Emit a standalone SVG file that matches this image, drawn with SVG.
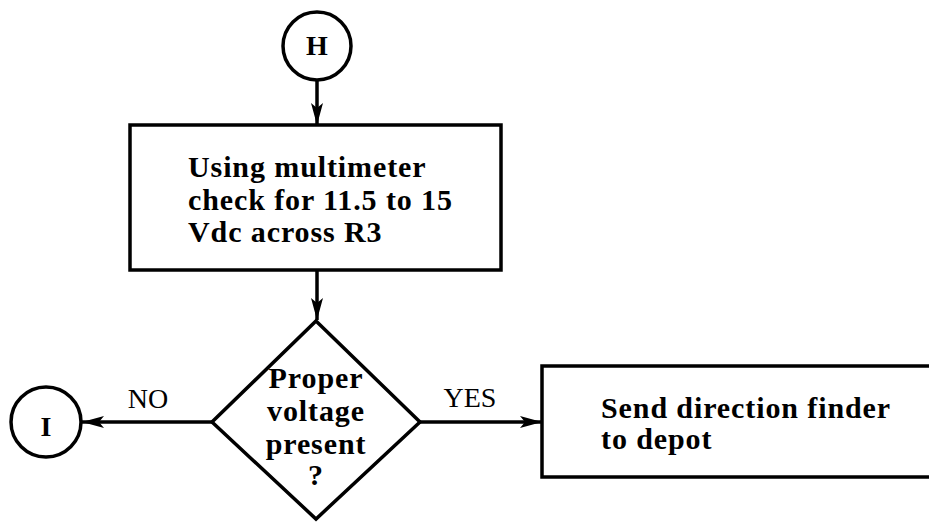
<svg xmlns="http://www.w3.org/2000/svg" width="929" height="522" viewBox="0 0 929 522">
<defs>
<style>
.shape{fill:#fff;stroke:#000;stroke-width:3.5}
.conn{fill:none;stroke:#000;stroke-width:3.5}
.t{font-family:"Liberation Serif",serif;font-weight:bold;font-size:30px;letter-spacing:0.9px;fill:#000}
.c{text-anchor:middle}
.cl{font-family:"Liberation Serif",serif;font-weight:bold;font-size:28px;fill:#000;text-anchor:middle}
.lbl{font-family:"Liberation Serif",serif;font-size:28px;fill:#000;text-anchor:middle}
</style>
<marker id="ah" viewBox="0 0 22 12" refX="22" refY="6" markerWidth="22" markerHeight="12" markerUnits="userSpaceOnUse" orient="auto">
<path d="M0,0 L22,6 L0,12 L5,6 Z" fill="#000"/>
</marker>
</defs>
<rect width="929" height="522" fill="#fff"/>
<g id="connectors">
<line class="conn" x1="317" y1="80" x2="317" y2="125" marker-end="url(#ah)"/>
<line class="conn" x1="317" y1="270" x2="317" y2="320" marker-end="url(#ah)"/>
<line class="conn" x1="212" y1="422" x2="82" y2="422" marker-end="url(#ah)"/>
<text class="lbl" x="148" y="408">NO</text>
<line class="conn" x1="420" y1="422" x2="542" y2="422" marker-end="url(#ah)"/>
<text class="lbl" x="470" y="407">YES</text>
</g>
<g id="nodeH">
<circle class="shape" cx="317" cy="46" r="34"/>
<text class="cl" x="317" y="55">H</text>
</g>
<g id="nodeCheck">
<rect class="shape" x="130" y="125" width="371" height="145"/>
<text class="t" x="188" y="177">Using multimeter</text>
<text class="t" x="188" y="210">check for 11.5 to 15</text>
<text class="t" x="188" y="242">Vdc across R3</text>
</g>
<g id="nodeDecision">
<polygon class="shape" points="316,321 420,422 316,519 212,422"/>
<text class="t c" x="316" y="388">Proper</text>
<text class="t c" x="316" y="421">voltage</text>
<text class="t c" x="316" y="454">present</text>
<text class="t c" x="316" y="485">?</text>
</g>
<g id="nodeI">
<circle class="shape" cx="46" cy="422" r="35"/>
<text class="cl" x="46" y="436">I</text>
</g>
<g id="nodeSend">
<rect class="shape" x="542" y="366" width="430" height="111"/>
<text class="t" x="601" y="418">Send direction finder</text>
<text class="t" x="601" y="449">to depot</text>
</g>
</svg>
